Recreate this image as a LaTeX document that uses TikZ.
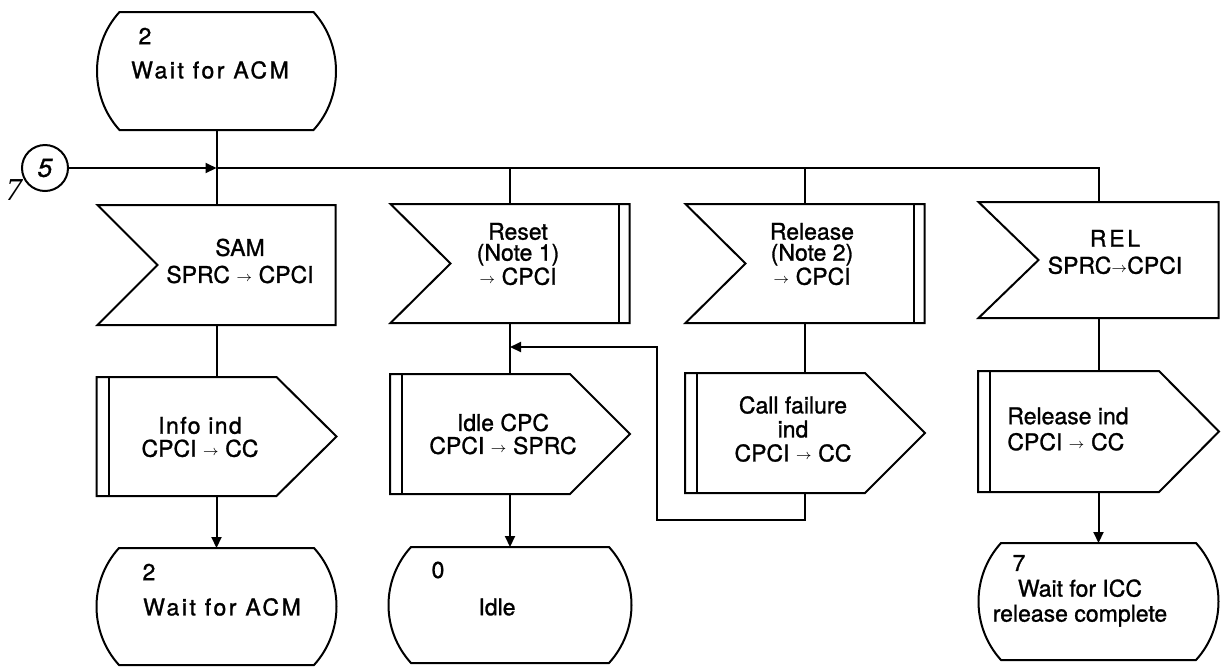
\documentclass[tikz,border=0pt]{standalone}
\usepackage{fontspec}
\setmainfont{TeX Gyre Heros}[FakeBold=1.2]
\newfontfamily\seriffam{Liberation Serif}
\usetikzlibrary{arrows.meta,calc}
\newcommand\sarr{\raisebox{0.8pt}{\scriptsize$\rightarrow$}}
\newcommand\widetxt[1]{{\addfontfeature{LetterSpace=11}#1}}
\newcommand\statepath[1]{\draw[shp] ($(#1.north west)+(22,0)$) -- ($(#1.north east)+(-22,0)$)
  .. controls ($(#1.north east)+(8,33)$) and ($(#1.south east)+(8,-33)$) .. ($(#1.south east)+(-22,0)$)
  -- ($(#1.south west)+(22,0)$)
  .. controls ($(#1.south west)+(-8,-33)$) and ($(#1.north west)+(-8,33)$) .. cycle;}
\newcommand\inpath[1]{\draw[shp] (#1.north west) -- (#1.north east) -- (#1.south east) -- (#1.south west) -- ($(#1.west)+(60,0)$) -- cycle;}
\newcommand\inbar[1]{\draw[shp] ($(#1.north east)+(-11,0)$) -- ($(#1.south east)+(-11,0)$);}
\newcommand\outpath[1]{\draw[shp] (#1.north west) -- ($(#1.north east)+(-60,0)$) -- (#1.east) -- ($(#1.south east)+(-60,0)$) -- (#1.south west) -- cycle;
  \draw[shp] ($(#1.north west)+(12,0)$) -- ($(#1.south west)+(12,0)$);}
\begin{document}
\begin{tikzpicture}[x=0.5pt,y=-0.5pt,
  frame/.style={draw=none,inner sep=0,outer sep=0,rectangle},
  shp/.style={line width=1pt,line join=miter},
  ln/.style={line width=1pt},
  arr/.style={ln,-{Triangle[length=5.5pt,width=5pt]}},
  txt/.style={font=\fontsize{11.5}{12}\selectfont,align=center,inner sep=0},
  num/.style={font=\fontsize{11.5}{12}\selectfont,inner sep=0}]
\useasboundingbox (0,0) rectangle (1222,666);

% frames
\node[frame,minimum width=119pt,minimum height=59pt] (st1) at (216.5,71) {};
\node[frame,minimum width=119pt,minimum height=60pt] (sam) at (216.5,265) {};
\node[frame,minimum width=119.5pt,minimum height=59.5pt] (reset) at (510,263.5) {};
\node[frame,minimum width=119.5pt,minimum height=59.5pt] (rls) at (805,263.5) {};
\node[frame,minimum width=120pt,minimum height=58pt] (rel) at (1098.5,260) {};
\node[frame,minimum width=120pt,minimum height=59.5pt] (info) at (216.5,436.5) {};
\node[frame,minimum width=120pt,minimum height=60pt] (idc) at (510,434) {};
\node[frame,minimum width=120pt,minimum height=60pt] (cf) at (805,433) {};
\node[frame,minimum width=120.5pt,minimum height=60.5pt] (ri) at (1098.5,431.5) {};
\node[frame,minimum width=119.5pt,minimum height=58.5pt] (st2) at (216.5,606.5) {};
\node[frame,minimum width=121pt,minimum height=58pt] (st3) at (510,605) {};
\node[frame,minimum width=119.5pt,minimum height=58.5pt] (st4) at (1098.5,601.5) {};

% outlines
\statepath{st1}
\statepath{st2}
\statepath{st3}
\statepath{st4}
\inpath{sam}
\inpath{reset}\inbar{reset}
\inpath{rls}\inbar{rls}
\inpath{rel}
\outpath{info}
\outpath{idc}
\outpath{cf}
\outpath{ri}

% connector circle
\node[circle,draw,line width=1pt,minimum size=23pt,inner sep=0,
      font=\fontsize{13}{13}\selectfont\itshape] (c5) at (45,168) {5};
\node[inner sep=0,font=\fontsize{16}{16}\seriffam\itshape] (n7) at (14,190) {7};

% texts
\node[num] (st1n) at (145,36) {2};
\node[txt] (st1t) at (210,70) {\widetxt{Wait for ACM}};
\node[txt,font=\fontsize{11.5}{13.5}\selectfont] (samt) at (240,261) {SAM\\SPRC \sarr{} CPCI};
\node[txt,font=\fontsize{11.5}{10.5}\selectfont] (resett) at (518,254) {Reset\\(Note 1)\\\sarr{} CPCI};
\node[txt,font=\fontsize{11.5}{10.5}\selectfont] (rlst) at (812,254) {Release\\(Note 2)\\\sarr{} CPCI};
\node[txt,font=\fontsize{11.5}{13.5}\selectfont] (relt) at (1115,252) {{\addfontfeature{LetterSpace=12}REL}\\SPRC\sarr{}CPCI};
\node[txt,font=\fontsize{11.5}{11.5}\selectfont] (infot) at (200,437) {{\addfontfeature{LetterSpace=6}Info ind}\\CPCI \sarr{} CC};
\node[txt,font=\fontsize{11.5}{11.5}\selectfont] (idct) at (503,434) {Idle CPC\\CPCI \sarr{} SPRC};
\node[txt] (cft) at (793,429) {Call failure\\ind\\CPCI \sarr{} CC};
\node[txt,align=left,font=\fontsize{11.5}{13}\selectfont] (rit) at (1068,429) {Release ind\\CPCI \sarr{} CC};
\node[num] (st2n) at (149,572) {2};
\node[txt] (st2t) at (222,607) {\widetxt{Wait for ACM}};
\node[num] (st3n) at (438,570) {0};
\node[txt] (st3t) at (497,607) {Idle};
\node[num] (st4n) at (1019,563) {7};
\node[txt,font=\fontsize{11.5}{12.5}\selectfont] (st4t) at (1080,603) {Wait for ICC\\release complete};

% junction coordinates
\coordinate (j0) at (st1.south |- c5);
\coordinate (j2) at (reset.north |- c5);
\coordinate (j3) at (rls.north |- c5);
\coordinate (j4) at (rel.north |- c5);
\coordinate (fb1) at (657,520);
\coordinate (fb2) at (657,347);
\coordinate (fbj) at (reset.south |- fb2);

% connectors
\draw[ln] (st1.south) -- (sam.north);
\draw[arr] (c5) -- (j0);
\draw[ln] (j0) -- (j4) -- (rel.north);
\draw[ln] (j2) -- (reset.north);
\draw[ln] (j3) -- (rls.north);
\draw[ln] (sam.south) -- (info.north);
\draw[ln] (reset.south) -- (idc.north);
\draw[ln] (rls.south) -- (cf.north);
\draw[ln] (rel.south) -- (ri.north);
\draw[arr] (info.south) -- (st2.north);
\draw[arr] (idc.south) -- (st3.north);
\draw[arr] (ri.south) -- (st4.north);
\draw[arr] (cf.south) |- (fb1) -- (fb2) -- (fbj);
\end{tikzpicture}
\end{document}
